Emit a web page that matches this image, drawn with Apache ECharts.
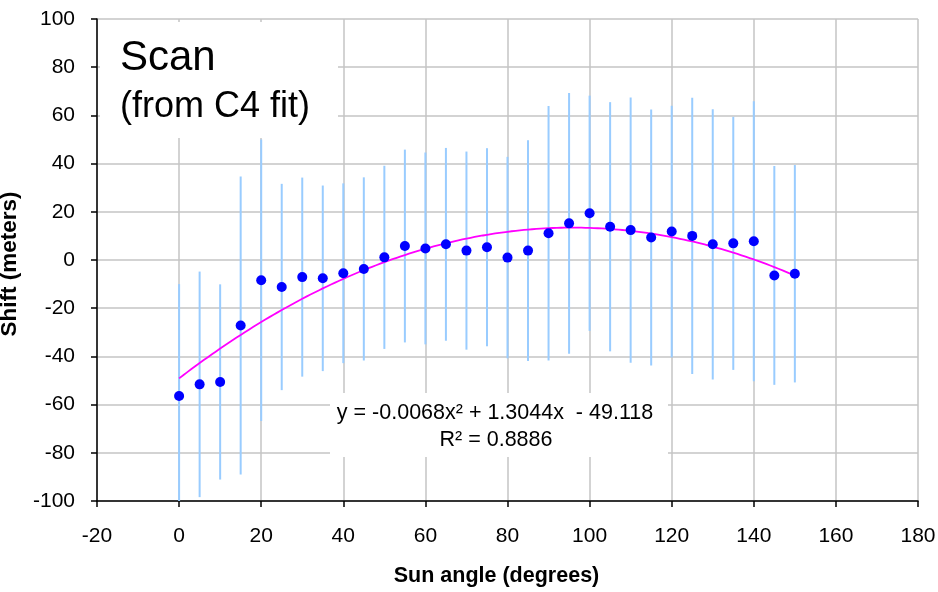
<!DOCTYPE html>
<html>
<head>
<meta charset="utf-8">
<script src="https://cdn.jsdelivr.net/npm/echarts@6/dist/echarts.min.js"></script>
<style>
  html, body { margin: 0; padding: 0; background: #ffffff; }
  #chart { width: 938px; height: 592px; }
</style>
</head>
<body>
<div id="chart"></div>
<script>
// Sun angle (degrees) of each scan
const sunAngle = [0, 5, 10, 15, 20, 25, 30, 35, 40, 45, 50, 55, 60, 65, 70, 75,
                  80, 85, 90, 95, 100, 105, 110, 115, 120, 125, 130, 135, 140, 145, 150];
// Measured shift (meters)
const shift = [-56.4, -51.6, -50.6, -27.2, -8.4, -11.2, -7.1, -7.6, -5.5, -3.7, 1.1, 5.8,
               4.8, 6.5, 3.9, 5.3, 1.0, 3.9, 11.1, 15.2, 19.4, 13.8, 12.4, 9.3, 11.8,
               10.0, 6.5, 6.9, 7.8, -6.4, -5.7];
// Symmetric error-bar half-widths (meters)
const shiftErr = [46.4, 46.8, 40.5, 61.8, 58.4, 42.8, 41.3, 38.5, 37.3, 38.0, 38.0, 40.0,
                  39.8, 40.0, 41.1, 41.1, 41.8, 45.8, 52.8, 54.1, 48.8, 51.7, 55.0, 53.1,
                  52.2, 57.3, 56.1, 52.5, 58.1, 45.4, 45.1];
// Polynomial trendline coefficients: y = a*x^2 + b*x + c
const trendCoef = [-0.0068, 1.3044, -49.118];
const trendRange = [0, 150];
const trendLabel = ['y = -0.0068x\u00B2 + 1.3044x  - 49.118', 'R\u00B2 = 0.8886'];
const xAxisRange = [-20, 180, 20];
const yAxisRange = [-100, 100, 20];

const FONT = '"Liberation Sans", Arial, Helvetica, sans-serif';

const pointData = sunAngle.map((x, i) => [x, shift[i]]);
const errData = sunAngle.map((x, i) => [x, shift[i] - shiftErr[i], shift[i] + shiftErr[i]]);
const trendData = [];
for (let x = trendRange[0]; x <= trendRange[1]; x += 1) {
  trendData.push([x, trendCoef[0] * x * x + trendCoef[1] * x + trendCoef[2]]);
}

const chart = echarts.init(document.getElementById('chart'), null, { renderer: 'canvas' });

const option = {
  animation: false,
  backgroundColor: '#ffffff',
  grid: { left: 97, right: 20, top: 19, bottom: 91, containLabel: false, outerBoundsMode: 'none' },
  xAxis: {
    type: 'value',
    min: xAxisRange[0], max: xAxisRange[1], interval: xAxisRange[2],
    name: 'Sun angle (degrees)',
    nameLocation: 'middle',
    nameGap: 64,
    nameTextStyle: { fontFamily: FONT, fontSize: 21.5, fontWeight: 'bold', color: '#000', padding: [0, 22, 0, 0] },
    axisLine: { show: true, onZero: false, lineStyle: { color: '#000', width: 1.5 } },
    axisTick: { show: true, inside: false, length: 6, lineStyle: { color: '#000', width: 1.5 } },
    axisLabel: { fontFamily: FONT, fontSize: 21, color: '#000', margin: 25 },
    splitLine: { show: true, lineStyle: { color: '#c4c4c4', width: 1.5 } }
  },
  yAxis: {
    type: 'value',
    min: yAxisRange[0], max: yAxisRange[1], interval: yAxisRange[2],
    name: 'Shift (meters)',
    nameLocation: 'middle',
    nameGap: 76,
    nameTextStyle: { fontFamily: FONT, fontSize: 22.5, fontWeight: 'bold', color: '#000', padding: [0, 8, 0, 0] },
    axisLine: { show: true, onZero: false, lineStyle: { color: '#000', width: 1.5 } },
    axisTick: { show: true, inside: false, length: 6, lineStyle: { color: '#000', width: 1.5 } },
    axisLabel: { fontFamily: FONT, fontSize: 21, color: '#000', margin: 22 },
    splitLine: { show: true, lineStyle: { color: '#c4c4c4', width: 1.5 } }
  },
  graphic: {
    elements: [
      // white label boxes that sit over the gridlines
      { type: 'rect', z: 1, shape: { x: 100, y: 22, width: 238, height: 116 }, style: { fill: '#ffffff' } },
      { type: 'rect', z: 1, shape: { x: 330, y: 393, width: 338, height: 64 }, style: { fill: '#ffffff' } },
      { type: 'text', z: 10, left: 120, top: 58.5 - 21,
        style: { text: 'Scan', font: '42px ' + FONT, fill: '#000', textVerticalAlign: 'top' } },
      { type: 'text', z: 10, left: 120, top: 107 - 18,
        style: { text: '(from C4 fit)', font: '36px ' + FONT, fill: '#000', textVerticalAlign: 'top' } },
      { type: 'text', z: 10, x: 495, y: 413,
        style: { text: trendLabel[0], font: '21.5px ' + FONT, fill: '#000', textAlign: 'center', textVerticalAlign: 'middle' } },
      { type: 'text', z: 10, x: 496, y: 440,
        style: { text: trendLabel[1], font: '21.5px ' + FONT, fill: '#000', textAlign: 'center', textVerticalAlign: 'middle' } }
    ]
  },
  series: [
    {
      name: 'error',
      type: 'custom',
      z: 2,
      data: errData,
      renderItem: function (params, api) {
        const x = api.value(0);
        const lo = Math.max(api.value(1), yAxisRange[0]);
        const hi = Math.min(api.value(2), yAxisRange[1]);
        const p1 = api.coord([x, lo]);
        const p2 = api.coord([x, hi]);
        return {
          type: 'line',
          shape: { x1: p1[0], y1: p1[1], x2: p2[0], y2: p2[1] },
          style: { stroke: '#99ccff', lineWidth: 2 }
        };
      }
    },
    {
      name: 'trend',
      type: 'line',
      z: 3,
      data: trendData,
      showSymbol: false,
      symbol: 'none',
      lineStyle: { color: '#ff00ff', width: 1.8 }
    },
    {
      name: 'shift',
      type: 'scatter',
      z: 4,
      data: pointData,
      symbol: 'circle',
      symbolSize: 10,
      itemStyle: { color: '#0000ff', opacity: 1 }
    }
  ]
};

chart.setOption(option);
</script>
</body>
</html>
